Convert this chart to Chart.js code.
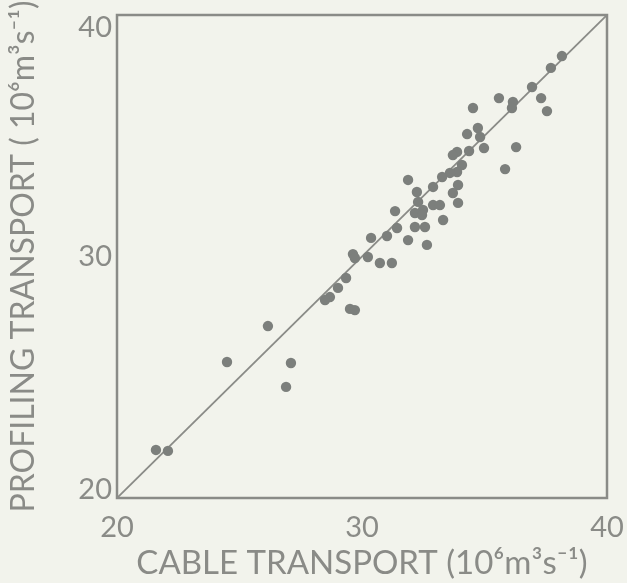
<!DOCTYPE html>
<html>
<head>
<meta charset="utf-8">
<script src="https://cdn.jsdelivr.net/npm/chart.js@4"></script>
<style>
  html, body { margin: 0; padding: 0; background: #f2f3ec; }
  #wrap { width: 627px; height: 583px; }
</style>
</head>
<body>
<div id="wrap"><canvas id="chart"></canvas></div>
<script>
// cable transport (x) vs profiling transport (y), 10^6 m^3/s
const cableX = [
  38.16, 37.71, 36.94, 37.31, 37.55, 35.59, 36.16, 36.12, 34.53, 34.73,
  34.29, 34.82, 34.98, 36.29, 34.37, 33.88, 33.71, 35.84, 34.08, 33.88,
  33.59, 33.27, 31.88, 32.24, 32.90, 33.92, 33.71, 33.92, 32.29, 32.49,
  32.90, 33.18, 32.16, 32.45, 33.31, 31.35, 31.43, 31.02, 32.16, 32.57,
  31.88, 32.65, 30.37, 30.24, 29.63, 29.71, 30.73, 31.22, 29.35, 29.02,
  28.69, 28.49, 29.51, 29.71, 26.16, 24.49, 27.10, 26.90, 21.59, 22.08
];
const profilingY = [
  38.30, 37.81, 37.02, 36.56, 36.02, 36.56, 36.40, 36.15, 36.15, 35.32,
  35.07, 34.95, 34.49, 34.53, 34.37, 34.33, 34.20, 33.62, 33.79, 33.50,
  33.46, 33.29, 33.17, 32.67, 32.88, 32.96, 32.63, 32.22, 32.26, 31.93,
  32.13, 32.13, 31.80, 31.72, 31.51, 31.88, 31.18, 30.85, 31.22, 31.22,
  30.68, 30.48, 30.77, 29.98, 30.10, 29.94, 29.73, 29.73, 29.11, 28.70,
  28.32, 28.20, 27.83, 27.78, 27.12, 25.63, 25.59, 24.60, 21.99, 21.95
];
// 1:1 line
const lineX = [20, 40];
const lineY = [20, 40];
const tickValues = [20, 30, 40];

const ink = '#8a8b87';
const dotColor = '#7c7f7c';
const fontFamily = "Lato, 'Open Sans', sans-serif";

const points = cableX.map((x, i) => ({ x: x, y: profilingY[i] }));
const onetoone = lineX.map((x, i) => ({ x: x, y: lineY[i] }));

// box around the plot area
const frame = {
    id: 'frame',
    afterDatasetsDraw(chart) {
        const a = chart.chartArea;
        const ctx = chart.ctx;
        ctx.save();
        ctx.strokeStyle = ink;
        ctx.lineWidth = 2.5;
        ctx.strokeRect(a.left, a.top, a.right - a.left, a.bottom - a.top);
        ctx.restore();
    }
};

new Chart(document.getElementById('chart'), {
    type: 'scatter',
    data: {
        datasets: [
            {
                label: 'stations',
                data: points,
                backgroundColor: dotColor,
                borderWidth: 0,
                pointRadius: 5.2
            },
            {
                type: 'line',
                label: '1:1',
                data: onetoone,
                borderColor: ink,
                borderWidth: 1.8,
                pointRadius: 0,
                fill: false
            }
        ]
    },
    options: {
        responsive: true,
        maintainAspectRatio: false,
        animation: false,
        layout: { padding: { top: 15, right: 20, left: 0, bottom: 0 } },
        plugins: {
            legend: { display: false },
            tooltip: { enabled: false }
        },
        scales: {
            x: {
                type: 'linear',
                min: 20, max: 40,
                afterFit: (s) => { s.height = 85; s.paddingLeft = 0; s.paddingRight = 0; },
                afterBuildTicks: (s) => { s.ticks = tickValues.map(v => ({ value: v })); },
                grid: { display: false, drawTicks: false },
                border: { display: false },
                ticks: {
                    color: ink,
                    padding: 12,
                    font: { family: fontFamily, size: 29 }
                },
                title: {
                    display: true,
                    text: 'CABLE TRANSPORT (10⁶m³s⁻¹)',
                    color: ink,
                    padding: { top: 0, bottom: 0 },
                    font: { family: fontFamily, size: 33 }
                }
            },
            y: {
                type: 'linear',
                min: 20, max: 40,
                afterFit: (s) => { s.width = 117; s.paddingTop = 0; s.paddingBottom = 0; },
                afterBuildTicks: (s) => { s.ticks = tickValues.map(v => ({ value: v })); },
                grid: { display: false, drawTicks: false },
                border: { display: false },
                ticks: {
                    color: ink,
                    padding: 5,
                    // end labels sit inside the frame: nudge them with an empty line
                    callback: (v) => v === 40 ? ['', '40'] : v === 20 ? ['20', ''] : String(v),
                    font: (c) => ({
                        family: fontFamily,
                        size: 29,
                        lineHeight: c.tick && c.tick.value === 40 ? '26px' : c.tick && c.tick.value === 20 ? '16px' : 1.2
                    })
                },
                title: {
                    display: true,
                    text: 'PROFILING TRANSPORT ( 10⁶m³s⁻¹)',
                    color: ink,
                    padding: { top: 4, bottom: 0 },
                    font: { family: fontFamily, size: 32 }
                }
            }
        }
    },
    plugins: [frame]
});
</script>
</body>
</html>
